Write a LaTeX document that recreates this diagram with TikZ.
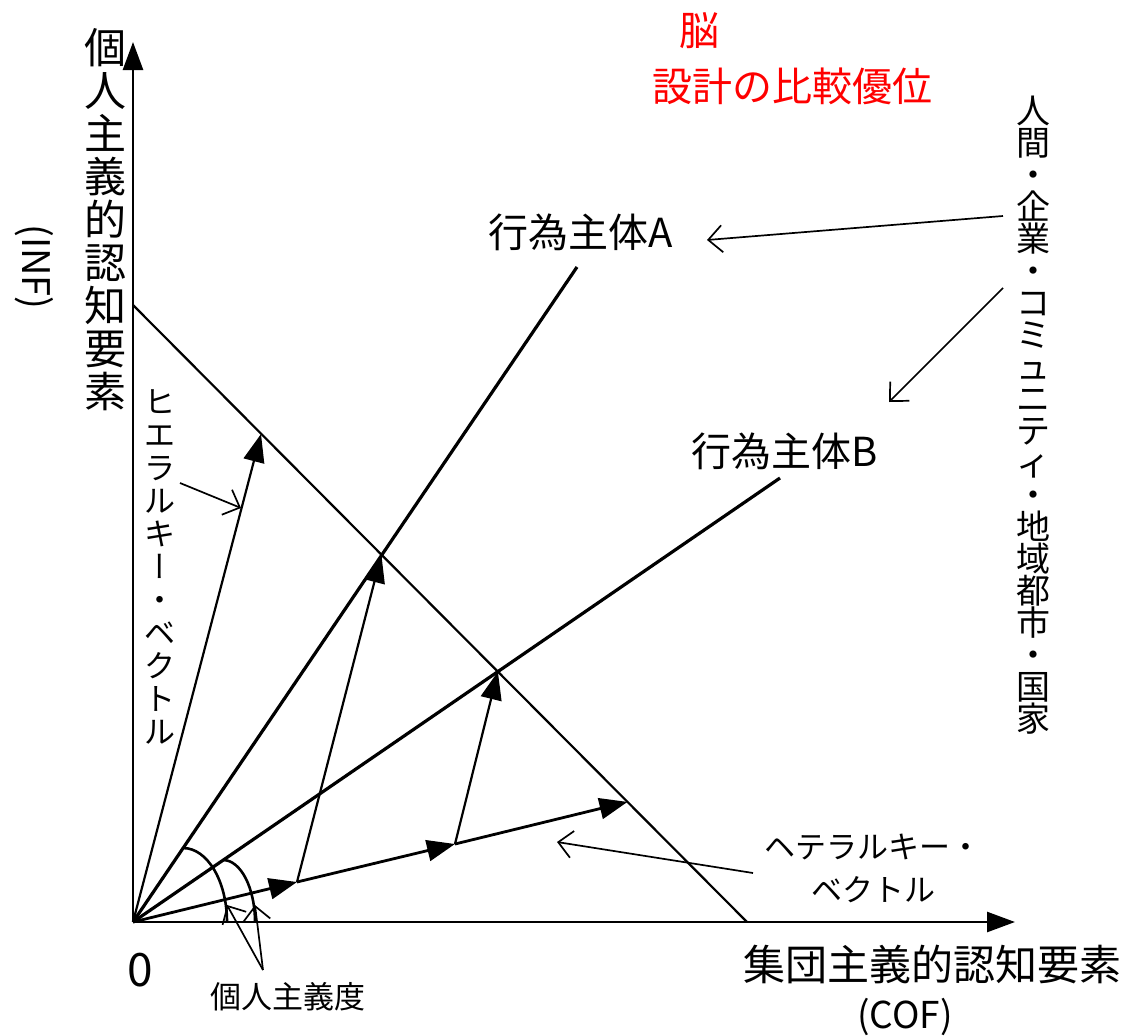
\documentclass[tikz,border=0pt]{standalone}
\usepackage{fontspec}
\setmainfont{Noto Sans CJK JP}
\newfontfamily\vertjp[RawFeature=+vert]{Noto Sans CJK JP}
\usetikzlibrary{arrows.meta}
\definecolor{pured}{RGB}{255,0,0}
\begin{document}
\begin{tikzpicture}[x=1pt,y=-1pt,
  axisline/.style={line width=2.6pt,-{Triangle[length=28pt,width=20pt]}},
  rayline/.style={line width=3.2pt},
  diagline/.style={line width=2.2pt},
  vecline/.style={line width=2.2pt,-{Triangle[length=28pt,width=21pt]}},
  hetline/.style={line width=2.8pt,-{Triangle[length=28pt,width=21pt]}},
  arcline/.style={line width=2.6pt},
  lblarrow/.style={line width=1.7pt,-{Straight Barb[length=14pt,width=27pt]}},
  txt/.style={inner sep=0pt,align=center},
  bigtxt/.style={txt,font=\fontsize{42}{43}\selectfont},
  midtxt/.style={txt,font=\fontsize{40}{44}\selectfont},
  smalltxt/.style={txt,font=\fontsize{31}{33}\selectfont},
]
\useasboundingbox (0,0) rectangle (1130,1036);
\fill[white] (0,0) rectangle (1130,1036);

% key points
\coordinate (O) at (133,922);
\coordinate (Ytip) at (133,42);
\coordinate (Xtip) at (1015,922);
\coordinate (D1) at (133,305);
\coordinate (D2) at (747,922);
\coordinate (Aend) at (577,267);
\coordinate (Bend) at (780,478);
\coordinate (HA) at (381.4,554.7);
\coordinate (HB) at (497.9,671.6);
\coordinate (P1) at (297,882);
\coordinate (P2) at (455,844);
\coordinate (P3) at (627.5,801.9);
\coordinate (Htip) at (261,434);
\coordinate (ArcAs) at (183,848);
\coordinate (ArcBs) at (223,860);

% axes
\draw[axisline] (O) -- (Ytip);
\draw[axisline] (O) -- (Xtip);
% budget line
\draw[diagline] (D1) -- (D2);
% actor rays
\draw[rayline] (O) -- (Aend);
\draw[rayline] (O) -- (Bend);
% hierarchy vector
\draw[vecline] (O) -- (Htip);
% heterarchy vectors
\draw[hetline] (O) -- (P1);
\draw[hetline] (P1) -- (P2);
\draw[hetline] (P2) -- (P3);
\draw[vecline] (P1) -- (HA);
\draw[vecline] (P2) -- (HB);
% arcs
\draw[arcline] (ArcAs) arc[start angle=-90,end angle=0,x radius=44,y radius=74];
\draw[arcline] (ArcBs) arc[start angle=-90,end angle=0,x radius=32,y radius=62];

% labels
\node[bigtxt] (ylab) at (105,220) {個\\人\\主\\義\\的\\認\\知\\要\\素};
\node[txt,font=\fontsize{38}{40}\selectfont,rotate=-90] (inf) at (34,267) {(INF)};
\node[txt,font=\fontsize{46}{48}\selectfont] (zero) at (140,970) {0};
\node[bigtxt] (xlab) at (932,964) {集団主義的認知要素};
\node[txt,font=\fontsize{37}{40}\selectfont] (cof) at (905,1017) {(COF)};
\node[midtxt,text=pured] (brain) at (699,31) {脳};
\node[midtxt,text=pured] (adv) at (792,86) {設計の比較優位};
\node[midtxt] (actA) at (581,232) {行為主体A};
\node[midtxt] (actB) at (785,451) {行為主体B};
\node[txt,font=\fontsize{34}{32}\selectfont] (scale) at (1033,415)
  {人\\間\\・\\企\\業\\・\\コ\\ミ\\ュ\\ニ\\テ\\ィ\\・\\地\\域\\都\\市\\・\\国\\家};
\node[smalltxt] (hier) at (160,567)
  {ヒ\\エ\\ラ\\ル\\キ\\{\vertjp ー}\\・\\ベ\\ク\\ト\\ル};
\node[smalltxt,font=\fontsize{31}{43}\selectfont] (het) at (873,868) {ヘテラルキー・\\ベクトル};
\node[smalltxt] (indiv) at (288,997) {個人主義度};

% label pointers
\coordinate (hetS) at (753,873);
\coordinate (hetT) at (557,842);
\coordinate (hierS) at (180,483);
\coordinate (hierT) at (241,508);
\coordinate (indS) at (263,970);
\coordinate (indT1) at (227,905);
\coordinate (indT2) at (255,905);
\coordinate (scS1) at (1003,216);
\coordinate (scT1) at (707,240);
\coordinate (scS2) at (1003,288);
\coordinate (scT2) at (889,402);
\draw[lblarrow] (hetS) -- (hetT);
\draw[lblarrow] (hierS) -- (hierT);
\draw[lblarrow] (indS) -- (indT1);
\draw[lblarrow] (indS) -- (indT2);
\draw[lblarrow] (scS1) -- (scT1);
\draw[lblarrow] (scS2) -- (scT2);
\end{tikzpicture}
\end{document}
